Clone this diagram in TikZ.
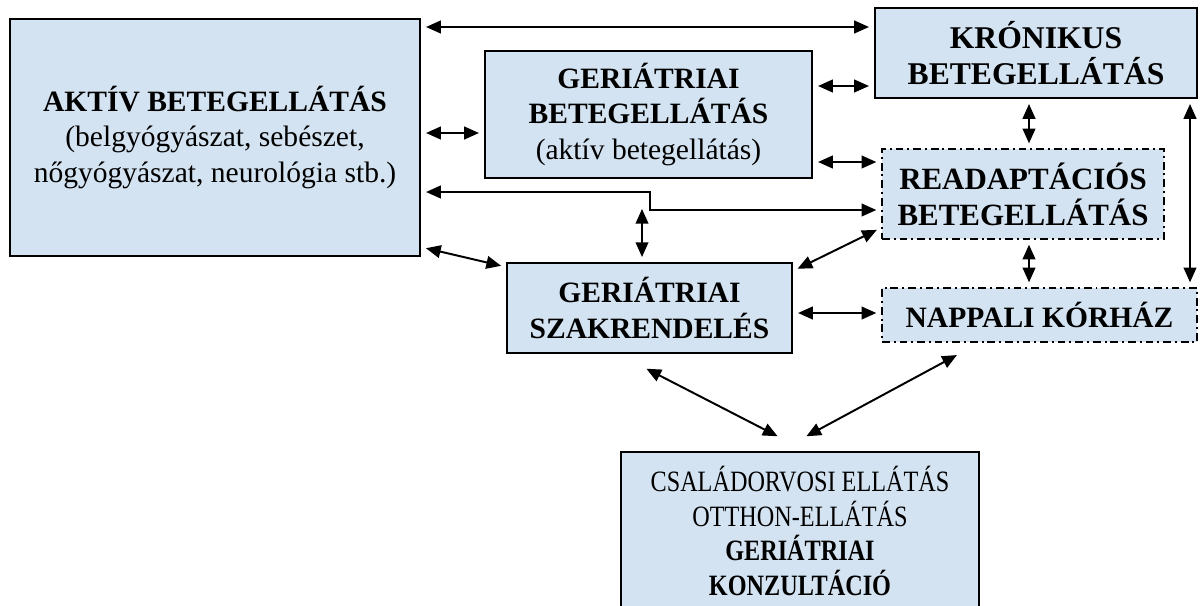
\documentclass[tikz,border=0pt]{standalone}
\usepackage{fontspec}
\setmainfont{Liberation Serif}
\newfontfamily\narrowserif[FakeStretch=0.82]{Liberation Serif}
\usetikzlibrary{arrows.meta,calc}

\definecolor{boxblue}{RGB}{212,227,241}

\tikzset{
  box/.style={draw, line width=1.5pt, fill=boxblue, align=center, inner sep=0pt,
    font=\fontsize{21}{25.5}\selectfont},
  dashbox/.style={box, line width=1pt, dash pattern=on 5.5pt off 2.8pt on 1.4pt off 2.8pt},
  link/.style={line width=1.4pt,
    {Triangle[length=10.5pt,width=9pt]}-{Triangle[length=10.5pt,width=9pt]},
    shorten <=3.5pt, shorten >=3.5pt},
}

\begin{document}
\begin{tikzpicture}[x=0.025cm, y=-0.025cm]
  \useasboundingbox (0,0) rectangle (1200,605);
  \clip (0,0) rectangle (1200,605);

  % boxes
  \node[box, minimum width=10.25cm, minimum height=5.925cm] (aktiv) at (215,137.5)
    {\textbf{AKTÍV BETEGELLÁTÁS}\\(belgyógyászat, sebészet,\\nőgyógyászat, neurológia stb.)};
  \node[box, minimum width=8.175cm, minimum height=3.175cm] (gerbet) at (648.5,114.5)
    {\textbf{GERIÁTRIAI}\\\textbf{BETEGELLÁTÁS}\\(aktív betegellátás)};
  \node[box, minimum width=8.05cm, minimum height=2.25cm,
    font=\fontsize{22.5}{25.5}\selectfont] (kron) at (1036,53)
    {\textbf{KRÓNIKUS}\\\textbf{BETEGELLÁTÁS}};
  \node[dashbox, minimum width=7.05cm, minimum height=2.25cm,
    font=\fontsize{22}{25.5}\selectfont] (readapt) at (1023,194)
    {\textbf{READAPTÁCIÓS}\\\textbf{BETEGELLÁTÁS}};
  \node[dashbox, minimum width=7.875cm, minimum height=1.35cm] (nappali) at (1039.5,315)
    {\textbf{NAPPALI KÓRHÁZ}};
  \node[box, minimum width=7.125cm, minimum height=2.25cm] (szak) at (649.5,308)
    {\textbf{GERIÁTRIAI}\\\textbf{SZAKRENDELÉS}};
  \node[box, minimum width=8.95cm, minimum height=3.95cm,
    font=\narrowserif\fontsize{21}{24.5}\selectfont] (csal) at (800,531)
    {CSALÁDORVOSI ELLÁTÁS\\OTTHON-ELLÁTÁS\\\textbf{GERIÁTRIAI}\\\textbf{KONZULTÁCIÓ}};

  % arrows
  \draw[link] (aktiv.east |- 0,27) -- (kron.west |- 0,27);
  \draw[link] (aktiv.east |- 0,133) -- (gerbet.west |- 0,133);
  \draw[link] (gerbet.east |- 0,86) -- (kron.west |- 0,86);
  \draw[link] (gerbet.east |- 0,162) -- (readapt.west |- 0,162);
  \draw[link] (aktiv.east |- 0,192) -- (650,192) -- (650,210) -- (readapt.west |- 0,210);
  \coordinate (split) at (642,204);
  \draw[link] (split) -- (split |- szak.north);
  \draw[link] ([shift={(0,-10)}]aktiv.south east) -- ([shift={(0,5)}]szak.north west);
  \draw[link] ([shift={(0,9)}]szak.north east) -- ([shift={(0,-12)}]readapt.south west);
  \draw[link] (szak.east |- 0,313) -- (nappali.west |- 0,313);
  \draw[link] (kron.south -| 1029,0) -- (readapt.north -| 1029,0);
  \draw[link] (readapt.south -| 1029,0) -- (nappali.north -| 1029,0);
  \draw[link] (kron.south -| 1190,0) -- (nappali.north -| 1190,0);
  \draw[link] ([shift={(-7.5,12.4)}]szak.south) -- ([shift={(-18,-12.4)}]csal.north);
  \draw[link] ([shift={(80,10)}]nappali.south west) -- ([shift={(2,-12.3)}]csal.north);
\end{tikzpicture}
\end{document}
